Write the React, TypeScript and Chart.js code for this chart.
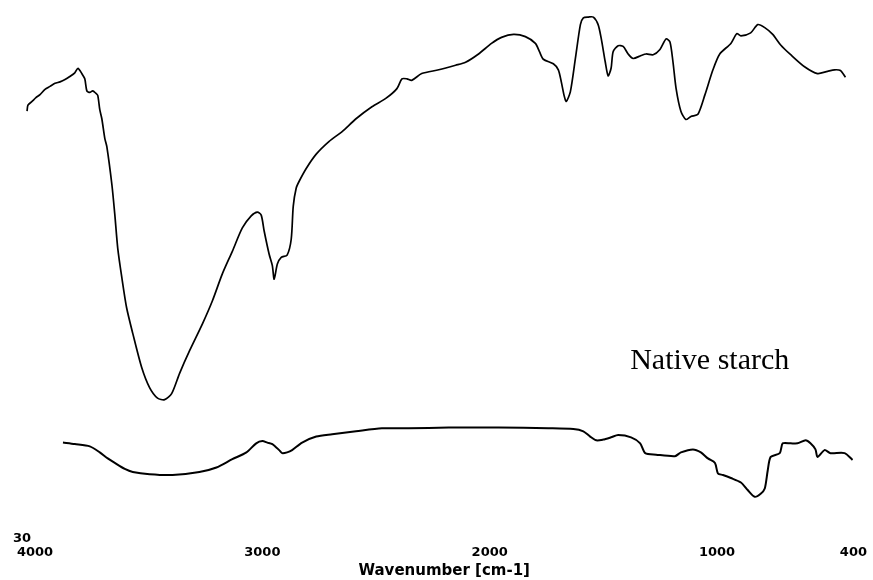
import React, { useEffect, useRef } from 'react';
import { Chart, registerables } from 'chart.js';

Chart.register(...registerables);

// Native starch (upper spectrum)
const upperWavenumbers = [
  4035, 4031, 4013, 3996, 3978, 3956, 3934, 3912, 3890, 3868, 3847, 3825, 3811, 3794, 3781, 3772,
  3759, 3746, 3733, 3724, 3715, 3706, 3693, 3684, 3662, 3649, 3636, 3618, 3597, 3570, 3531, 3496,
  3461, 3430, 3399, 3364, 3320, 3263, 3220, 3176, 3132, 3088, 3049, 3022, 3005, 2992, 2970, 2956,
  2948, 2934, 2917, 2891, 2873, 2864, 2851, 2838, 2807, 2763, 2706, 2649, 2588, 2518, 2457, 2408,
  2386, 2364, 2343, 2299, 2224, 2150, 2106, 2049, 1992, 1948, 1895, 1843, 1799, 1781, 1764, 1720,
  1698, 1685, 1672, 1663, 1645, 1623, 1601, 1588, 1566, 1544, 1523, 1509, 1492, 1479, 1466, 1457,
  1435, 1413, 1391, 1369, 1334, 1312, 1281, 1251, 1224, 1207, 1194, 1180, 1159, 1137, 1115, 1084,
  1053, 1018, 988, 939, 913, 895, 852, 821, 790, 755, 720, 676, 615, 558, 514, 483, 457, 435,
];
const upperTransmittance = [
  86.8, 87.6, 88.1, 88.6, 89.0, 89.7, 90.1, 90.5, 90.7, 91.0, 91.4, 91.9, 92.5, 91.8, 91.1, 89.5,
  89.3, 89.5, 89.2, 88.9, 87.0, 85.8, 83.2, 82.1, 77.1, 73.1, 68.6, 64.7, 60.7, 57.3, 52.8, 50.1,
  48.7, 48.5, 49.3, 52.0, 55.0, 58.6, 61.6, 65.2, 68.2, 71.3, 72.9, 73.4, 73.0, 70.9, 67.8, 66.3,
  64.5, 66.5, 67.4, 67.7, 69.8, 74.2, 76.6, 77.5, 79.2, 81.1, 82.8, 84.1, 85.8, 87.4, 88.5, 89.8,
  91.1, 91.1, 90.9, 91.8, 92.3, 92.9, 93.3, 94.4, 95.8, 96.6, 97.0, 96.7, 95.8, 94.7, 93.7, 93.1,
  92.3, 90.7, 88.8, 88.1, 89.4, 93.8, 98.3, 99.2, 99.3, 99.3, 98.3, 96.4, 93.4, 91.5, 92.5, 94.7,
  95.5, 95.4, 94.4, 93.8, 94.2, 94.4, 94.3, 95.0, 96.4, 96.0, 93.4, 89.8, 86.8, 85.7, 86.1, 86.4,
  89.0, 92.3, 94.4, 95.8, 97.1, 96.8, 97.2, 98.3, 97.9, 97.0, 95.6, 94.3, 92.7, 91.8, 92.1, 92.3, 92.2, 91.3,
];

// Modified sample (lower spectrum)
const lowerWavenumbers = [
  3877, 3825, 3759, 3715, 3680, 3649, 3605, 3570, 3496, 3395, 3277, 3202, 3132, 3070, 3027, 3000,
  2978, 2956, 2926, 2913, 2891, 2869, 2825, 2763, 2693, 2588, 2474, 2356, 2180, 1961, 1742, 1632,
  1588, 1558, 1531, 1501, 1466, 1435, 1378, 1338, 1316, 1268, 1185, 1159, 1106, 1071, 1040, 1009,
  996, 974, 939, 895, 865, 834, 808, 790, 777, 764, 724, 711, 676, 646, 610, 589, 567, 558, 527,
  501, 439, 404,
];
const lowerTransmittance = [
  42.8, 42.6, 42.3, 41.5, 40.7, 40.1, 39.3, 38.9, 38.6, 38.5, 38.9, 39.5, 40.6, 41.5, 42.7, 43.0,
  42.8, 42.6, 41.8, 41.4, 41.5, 41.8, 42.8, 43.6, 43.9, 44.3, 44.7, 44.7, 44.8, 44.8, 44.7, 44.6,
  44.3, 43.6, 43.1, 43.2, 43.5, 43.8, 43.5, 42.7, 41.4, 41.2, 41.0, 41.5, 41.9, 41.5, 40.7, 40.1,
  38.7, 38.5, 38.1, 37.5, 36.5, 35.6, 36.0, 36.7, 39.1, 40.9, 41.4, 42.7, 42.7, 42.7, 43.1, 42.7,
  41.9, 40.9, 41.8, 41.4, 41.4, 40.5,
];

const xTickValues = [4000, 3000, 2000, 1000, 400];
const yTickValues = [30];
const xAxisTitle = 'Wavenumber [cm-1]';
const sampleLabel = 'Native starch';
const sampleLabelPos = { x: 1382, y: 52.6 };

export default function App() {
  const canvasRef = useRef<HTMLCanvasElement>(null);

  useEffect(() => {
    document.body.style.margin = '0';
    const canvas = canvasRef.current;
    if (!canvas) return;

    const labelPlugin = {
      id: 'sampleLabel',
      afterDatasetsDraw(chart: any) {
        const { ctx, scales } = chart;
        const px = scales.x.getPixelForValue(sampleLabelPos.x);
        const py = scales.y.getPixelForValue(sampleLabelPos.y);
        ctx.save();
        ctx.font = '30px "Liberation Serif", "Times New Roman", serif';
        ctx.fillStyle = '#000';
        ctx.textAlign = 'left';
        ctx.textBaseline = 'alphabetic';
        ctx.fillText(sampleLabel, px, py);
        ctx.restore();
      },
    };

    const chart = new Chart(canvas, {
      type: 'line',
      data: {
        datasets: [
          {
            label: 'Native starch',
            data: upperWavenumbers.map((x, i) => ({ x, y: upperTransmittance[i] })),
            borderColor: '#000',
            borderWidth: 1.7,
            pointRadius: 0,
            tension: 0.25,
            fill: false,
            clip: false as any,
          },
          {
            label: 'Modified',
            data: lowerWavenumbers.map((x, i) => ({ x, y: lowerTransmittance[i] })),
            borderColor: '#000',
            borderWidth: 2,
            pointRadius: 0,
            tension: 0.25,
            fill: false,
            clip: false as any,
          },
        ],
      },
      options: {
        animation: false,
        responsive: false,
        maintainAspectRatio: false,
        devicePixelRatio: 1,
        layout: { padding: { top: 10, right: 17, bottom: 0, left: 0 } },
        plugins: {
          legend: { display: false },
          tooltip: { enabled: false },
        },
        scales: {
          x: {
            type: 'linear',
            min: 400,
            max: 4000,
            reverse: true,
            grid: { display: false, drawTicks: false },
            border: { display: false },
            afterBuildTicks: (scale: any) => {
              scale.ticks = xTickValues.map((v) => ({ value: v }));
            },
            afterFit: (scale: any) => {
              scale.height = 41;
            },
            ticks: {
              color: '#000',
              padding: 6,
              maxRotation: 0,
              autoSkip: false,
              font: { family: '"DejaVu Sans", sans-serif', size: 13, weight: 'bold' },
              callback: (v: any) => String(v),
            },
            title: {
              display: true,
              text: xAxisTitle,
              color: '#000',
              padding: 0,
              font: { family: '"DejaVu Sans", sans-serif', size: 15, weight: 'bold' },
            },
          },
          y: {
            type: 'linear',
            min: 30,
            max: 100,
            grid: { display: false, drawTicks: false },
            border: { display: false },
            afterBuildTicks: (scale: any) => {
              scale.ticks = yTickValues.map((v) => ({ value: v }));
            },
            afterFit: (scale: any) => {
              scale.width = 35;
            },
            ticks: {
              color: '#000',
              padding: 4,
              font: { family: '"DejaVu Sans", sans-serif', size: 13, weight: 'bold' },
              callback: (v: any) => String(v),
            },
          },
        },
      },
      plugins: [labelPlugin],
    });

    return () => chart.destroy();
  }, []);

  return (
    <div style={{ width: 873, height: 580 }}>
      <canvas ref={canvasRef} width={873} height={580} style={{ display: 'block' }} />
    </div>
  );
}
